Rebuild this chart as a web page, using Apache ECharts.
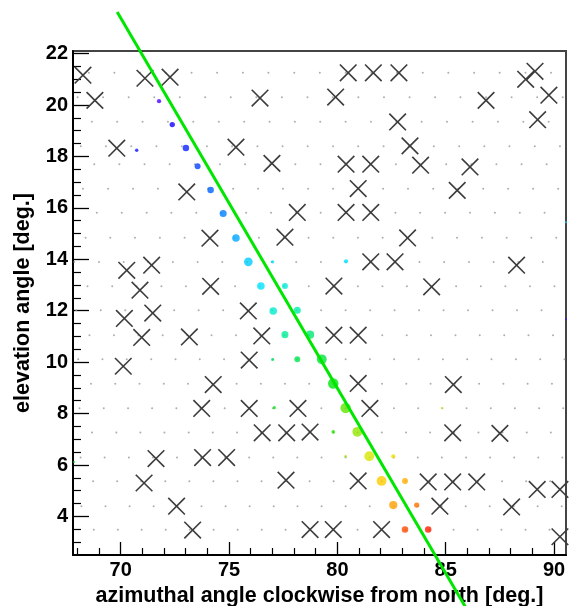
<!DOCTYPE html>
<html>
<head>
<meta charset="utf-8">
<script src="https://cdn.jsdelivr.net/npm/echarts@6/dist/echarts.min.js"></script>
<style>
  html, body { margin: 0; padding: 0; background: #fff; }
  #chart { width: 570px; height: 606px; }
</style>
</head>
<body>
<div id="chart"></div>
<script>
// Camera pixel lattice: elevation of each pixel row and the azimuths of its pixels
const gridRowEl = [21.25, 20.30, 19.35, 18.40, 17.70, 16.74, 15.81, 14.84, 13.89, 12.95,
                   12.02, 11.05, 10.11, 9.16, 8.21, 7.26, 6.29, 5.37, 4.40, 3.48];
const gridRowAz = [
  [68.53, 69.71, 70.90, 72.08, 73.27, 74.45, 75.64, 76.82, 78.01, 79.19, 80.38, 81.57, 82.75, 83.94, 85.12, 86.31, 87.49, 88.68, 89.86],
  [68.01, 69.19, 70.37, 71.55, 72.73, 73.90, 75.08, 76.26, 77.44, 78.62, 79.79, 80.97, 82.15, 83.33, 84.51, 85.68, 86.86, 88.04, 89.22, 90.40],
  [68.67, 69.84, 71.01, 72.18, 73.35, 74.53, 75.70, 76.87, 78.04, 79.21, 80.38, 81.55, 82.72, 83.89, 85.06, 86.24, 87.41, 88.58, 89.75],
  [68.16, 69.32, 70.49, 71.65, 72.82, 73.98, 75.14, 76.31, 77.47, 78.63, 79.80, 80.96, 82.13, 83.29, 84.45, 85.62, 86.78, 87.94, 89.11, 90.27],
  [68.78, 69.94, 71.10, 72.26, 73.42, 74.58, 75.74, 76.90, 78.06, 79.22, 80.38, 81.54, 82.70, 83.86, 85.02, 86.18, 87.34, 88.50, 89.66],
  [68.26, 69.42, 70.57, 71.72, 72.88, 74.03, 75.19, 76.34, 77.49, 78.65, 79.80, 80.96, 82.11, 83.26, 84.42, 85.57, 86.73, 87.88, 89.03, 90.19],
  [68.90, 70.05, 71.20, 72.34, 73.49, 74.64, 75.79, 76.94, 78.08, 79.23, 80.38, 81.53, 82.68, 83.82, 84.97, 86.12, 87.27, 88.42, 89.56],
  [68.38, 69.52, 70.66, 71.81, 72.95, 74.09, 75.24, 76.38, 77.52, 78.67, 79.81, 80.95, 82.09, 83.24, 84.38, 85.52, 86.67, 87.81, 88.95, 90.10],
  [67.86, 69.00, 70.14, 71.27, 72.41, 73.55, 74.69, 75.83, 76.97, 78.10, 79.24, 80.38, 81.52, 82.66, 83.79, 84.93, 86.07, 87.21, 88.35, 89.48],
  [68.47, 69.61, 70.74, 71.88, 73.01, 74.14, 75.28, 76.41, 77.55, 78.68, 79.81, 80.95, 82.08, 83.21, 84.35, 85.48, 86.62, 87.75, 88.89, 90.02],
  [67.95, 69.08, 70.21, 71.34, 72.47, 73.60, 74.73, 75.86, 76.99, 78.12, 79.25, 80.38, 81.51, 82.64, 83.77, 84.90, 86.03, 87.16, 88.29, 89.42],
  [68.56, 69.69, 70.82, 71.94, 73.07, 74.19, 75.32, 76.44, 77.57, 78.69, 79.82, 80.94, 82.07, 83.20, 84.32, 85.45, 86.57, 87.70, 88.82, 89.95],
  [68.04, 69.16, 70.28, 71.41, 72.53, 73.65, 74.77, 75.89, 77.02, 78.14, 79.26, 80.38, 81.50, 82.62, 83.75, 84.87, 85.99, 87.11, 88.24, 89.36, 90.48],
  [68.63, 69.75, 70.87, 71.99, 73.11, 74.23, 75.35, 76.47, 77.58, 78.70, 79.82, 80.94, 82.06, 83.18, 84.30, 85.42, 86.54, 87.66, 88.78, 89.90],
  [68.10, 69.22, 70.34, 71.45, 72.57, 73.68, 74.80, 75.92, 77.03, 78.15, 79.26, 80.38, 81.50, 82.61, 83.73, 84.84, 85.96, 87.08, 88.19, 89.31, 90.42],
  [68.68, 69.80, 70.91, 72.02, 73.14, 74.25, 75.37, 76.48, 77.60, 78.71, 79.82, 80.94, 82.05, 83.17, 84.28, 85.39, 86.51, 87.62, 88.74, 89.85],
  [68.15, 69.26, 70.38, 71.49, 72.60, 73.71, 74.82, 75.93, 77.04, 78.15, 79.27, 80.38, 81.49, 82.60, 83.71, 84.82, 85.94, 87.05, 88.16, 89.27, 90.38],
  [68.73, 69.84, 70.95, 72.06, 73.17, 74.28, 75.39, 76.50, 77.61, 78.72, 79.83, 80.94, 82.05, 83.16, 84.27, 85.38, 86.49, 87.60, 88.71, 89.82],
  [68.19, 69.30, 70.41, 71.52, 72.62, 73.73, 74.84, 75.95, 77.06, 78.16, 79.27, 80.38, 81.49, 82.60, 83.70, 84.81, 85.92, 87.03, 88.14, 89.24, 90.35],
  [68.76, 69.87, 70.97, 72.08, 73.19, 74.29, 75.40, 76.51, 77.61, 78.72, 79.83, 80.93, 82.04, 83.15, 84.25, 85.36, 86.47, 87.57, 88.68, 89.79]
];

// Star positions (crosses)
const starAz = [68.26, 71.12, 72.28, 68.81, 76.43, 69.82, 75.32, 76.98, 73.05,
                74.12, 77.58, 70.28, 71.43, 70.89, 74.15, 80.50, 81.66, 82.84, 89.12,
                88.69, 79.92, 86.86, 89.76, 82.78, 89.24, 83.35, 80.40, 81.54, 83.84,
                86.12, 80.96, 85.53, 78.15, 80.40, 81.54, 83.24, 81.54, 82.66, 88.27,
                79.84, 84.35, 70.17, 71.48, 75.89, 70.97, 73.17, 76.51, 79.84, 80.96,
                70.12, 75.93, 74.27, 80.96, 85.35, 73.74, 75.93, 78.18, 81.50, 76.53,
                77.66, 78.74, 85.32, 87.50, 71.63, 73.78, 74.89, 71.08, 77.63, 80.96,
                84.19, 85.32, 86.43, 89.22, 90.27, 72.58, 84.73, 88.04, 73.32, 78.74,
                79.81, 82.04, 90.27];
const starEl = [21.16, 21.04, 21.08, 20.18, 20.27, 18.32, 18.36, 17.73, 16.62,
                14.82, 14.86, 13.57, 13.77, 12.80, 12.95, 21.25, 21.25, 21.25, 21.31,
                21.00, 20.31, 20.18, 20.38, 19.34, 19.43, 18.41, 17.70, 17.70, 17.66,
                17.59, 16.75, 16.68, 15.82, 15.82, 15.82, 14.83, 13.90, 13.90, 13.77,
                12.96, 12.93, 11.70, 11.91, 11.99, 10.96, 10.98, 11.02, 11.05, 11.05,
                9.84, 10.08, 9.13, 9.17, 9.13, 8.20, 8.20, 8.20, 8.20, 7.25,
                7.25, 7.28, 7.25, 7.23, 6.25, 6.29, 6.29, 5.30, 5.41, 5.38,
                5.34, 5.34, 5.34, 5.05, 5.05, 4.40, 4.40, 4.37, 3.47, 3.49,
                3.49, 3.49, 3.21];

// Triggered pixels: position, pulse amplitude and arrival time (both on a 0..100 scale)
const hitAz   = [71.77, 72.38, 73.01, 70.74, 73.55, 74.15, 74.73, 75.32, 75.89, 77.01,
                 80.40, 76.47, 77.58, 77.04, 78.15, 77.58, 78.74, 77.01, 78.15, 79.28,
                 79.81, 77.09, 80.38, 84.81, 79.81, 80.92, 80.38, 81.47, 82.58, 82.04,
                 83.12, 82.58, 83.66, 83.12, 84.19, 67.85, 90.55, 90.55];
const hitEl   = [20.15, 19.24, 18.33, 18.24, 17.62, 16.69, 15.78, 14.83, 13.90, 13.90,
                 13.92, 12.96, 12.96, 11.99, 12.02, 11.07, 11.07, 10.10, 10.11, 10.11,
                 9.17, 8.23, 8.22, 8.22, 7.29, 7.29, 6.34, 6.34, 6.34, 5.38,
                 5.38, 4.44, 4.44, 3.49, 3.49, 6.12, 15.44, 11.67];
const hitAmp  = [25, 37, 50, 16, 44, 50, 56, 62, 75, 16,
                 25, 62, 44, 62, 56, 56, 69, 12, 44, 87,
                 94, 12, 94, 0, 19, 87, 6, 87, 25, 87,
                 44, 69, 37, 50, 50, 0, 0, 0];
const hitTime = [3, 8, 11, 10, 14, 17, 20, 24, 28, 30,
                 31, 31, 35, 36, 39, 41, 44, 46, 47, 49,
                 53, 53, 59, 70, 56, 62, 63, 68, 71, 76,
                 80, 82, 87, 91, 96, 53, 30, 3];

// Fitted track: two end points in (azimuth, elevation)
const trackAz = [69.84, 86.2];
const trackEl = [23.62, 0.06];

// Axis ticks
const xMajorTicks = [70, 75, 80, 85, 90];
const xMinorTicks = [68, 69, 71, 72, 73, 74, 76, 77, 78, 79, 81, 82, 83, 84, 86, 87, 88, 89];
const yMajorTicks = [4, 6, 8, 10, 12, 14, 16, 18, 20, 22];
const yMinorTicks = [3, 3.5, 4.5, 5, 5.5, 6.5, 7, 7.5, 8.5, 9, 9.5, 10.5, 11, 11.5,
                     12.5, 13, 13.5, 14.5, 15, 15.5, 16.5, 17, 17.5, 18.5, 19, 19.5,
                     20.5, 21, 21.5];

const X_MIN = 67.8, X_MAX = 90.55, Y_MIN = 2.5, Y_MAX = 22.1;

const gridDots = [];
gridRowEl.forEach((el, i) => gridRowAz[i].forEach(az => gridDots.push([az, el])));
const stars = starAz.map((az, i) => [az, starEl[i]]);
const hits = hitAz.map((az, i) => [az, hitEl[i], hitAmp[i], hitTime[i]]);
const track = trackAz.map((az, i) => [az, trackEl[i]]);

const FONT = 'Liberation Sans, Arial, Helvetica, sans-serif';
const tickStyle = { fontFamily: FONT, fontSize: 20, fontWeight: 'bold', color: '#000' };
const titleStyle = { fontFamily: FONT, fontSize: 21.5, fontWeight: 'bold', color: '#000' };

function renderCross(params, api) {
  const p = api.coord([api.value(0), api.value(1)]);
  const h = 8.3;
  const st = { stroke: '#3c3c3c', lineWidth: 1.6 };
  return {
    type: 'group',
    children: [
      { type: 'line', shape: { x1: p[0] - h, y1: p[1] - h, x2: p[0] + h, y2: p[1] + h }, style: st },
      { type: 'line', shape: { x1: p[0] - h, y1: p[1] + h, x2: p[0] + h, y2: p[1] - h }, style: st }
    ]
  };
}

const chart = echarts.init(document.getElementById('chart'), null, { renderer: 'canvas' });
chart.setOption({
  animation: false,
  backgroundColor: '#fff',
  grid: {
    left: 73, right: 4, top: 51, bottom: 51,
    outerBoundsMode: 'none', containLabel: false,
    show: true, borderColor: '#444', borderWidth: 2, backgroundColor: '#fff'
  },
  xAxis: [
    {
      type: 'value', min: X_MIN, max: X_MAX,
      name: 'azimuthal angle clockwise from north [deg.]',
      nameLocation: 'middle', nameGap: 26,
      nameTextStyle: titleStyle,
      axisLine: { show: true, onZero: false, lineStyle: { color: '#000', width: 2 } },
      axisTick: { show: true, inside: true, length: 13, customValues: xMajorTicks, lineStyle: { color: '#000', width: 1.3 } },
      axisLabel: { show: true, customValues: xMajorTicks, margin: 5, ...tickStyle },
      splitLine: { show: false }
    },
    {
      type: 'value', min: X_MIN, max: X_MAX, position: 'bottom',
      axisLine: { show: false },
      axisTick: { show: true, inside: true, length: 7, customValues: xMinorTicks, lineStyle: { color: '#000', width: 1.2 } },
      axisLabel: { show: false },
      splitLine: { show: false }
    }
  ],
  yAxis: [
    {
      type: 'value', min: Y_MIN, max: Y_MAX,
      name: 'elevation angle [deg.]',
      nameLocation: 'middle', nameGap: 39,
      nameTextStyle: titleStyle,
      axisLine: { show: true, onZero: false, lineStyle: { color: '#000', width: 2 } },
      axisTick: { show: true, inside: true, length: 16, customValues: yMajorTicks, lineStyle: { color: '#000', width: 1.3 } },
      axisLabel: { show: true, customValues: yMajorTicks, margin: 5, ...tickStyle },
      splitLine: { show: false }
    },
    {
      type: 'value', min: Y_MIN, max: Y_MAX, position: 'left',
      axisLine: { show: false },
      axisTick: { show: true, inside: true, length: 8, customValues: yMinorTicks, lineStyle: { color: '#000', width: 1.2 } },
      axisLabel: { show: false },
      splitLine: { show: false }
    }
  ],
  visualMap: [
    {
      type: 'continuous', show: false, seriesIndex: 2, dimension: 3, min: 0, max: 100,
      inRange: { color: ['#6a00ff', '#1400ff', '#0050ff', '#00a0ff', '#00e4ff', '#00f0b4', '#00e65a',
                         '#00e600', '#8ce600', '#e6e600', '#ffc800', '#ff8c00', '#ff3c00', '#ff0000'] }
    },
    {
      type: 'continuous', show: false, seriesIndex: 2, dimension: 2, min: 0, max: 100,
      inRange: { symbolSize: [2, 11] }
    }
  ],
  series: [
    {
      name: 'pixels', type: 'scatter', data: gridDots, symbol: 'circle', symbolSize: 2,
      itemStyle: { color: '#9a9a9a' }, silent: true, z: 1
    },
    {
      name: 'stars', type: 'custom', data: stars, renderItem: renderCross, silent: true, z: 2
    },
    {
      name: 'hits', type: 'scatter', data: hits, symbol: 'circle',
      encode: { x: 0, y: 1 }, silent: true, z: 3
    },
    {
      name: 'track', type: 'line', data: track, symbol: 'none', clip: false,
      lineStyle: { color: '#00e600', width: 3 }, silent: true, z: 4
    }
  ]
});
</script>
</body>
</html>
